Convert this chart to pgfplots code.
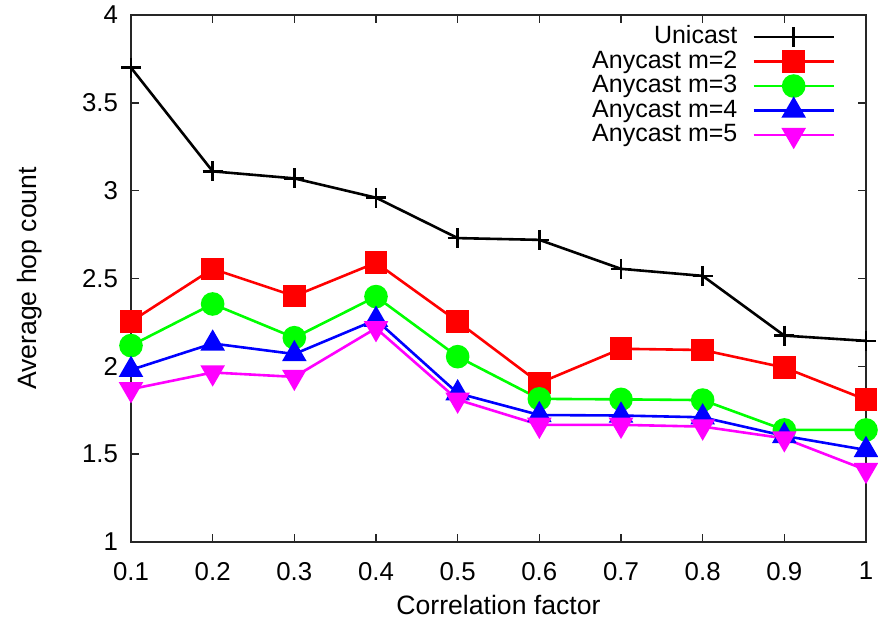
\documentclass[border=0pt]{standalone}
\usepackage{fontspec}
\setmainfont{Liberation Sans}
\usepackage{pgfplots}
\pgfplotsset{compat=1.18}
\definecolor{gpgreen}{RGB}{0,255,0}
\definecolor{gpmag}{RGB}{255,0,255}
\begin{document}
\begin{tikzpicture}
\begin{axis}[
  name=main,
  scale only axis,
  width=367.5bp, height=263.5bp,
  xmin=0.1, xmax=1, ymin=1, ymax=4,
  xtick={0.1,0.2,...,1.0},
  xticklabels={0.1,0.2,0.3,0.4,0.5,0.6,0.7,0.8,0.9,1},
  ytick={1,1.5,2,2.5,3,3.5,4},
  yticklabels={1,1.5,2,2.5,3,3.5,4},
  tick align=inside,
  major tick length=4bp,
  axis line style={line width=0.8bp, black!85},
  every tick/.style={line width=0.7bp, black!85},
  font=\fontsize{13.3bp}{15bp}\selectfont,
  tick label style={font=\fontsize{12.9bp}{14bp}\selectfont},
  xticklabel style={yshift=-6.5bp},
  yticklabel style={xshift=-3bp},
  xlabel={Correlation factor},
  ylabel={Average hop count},
  every axis x label/.style={at={(axis description cs:0.5,-0.1195)}, anchor=center},
  every axis y label/.style={at={(axis description cs:-0.1374,0.5)}, rotate=90, anchor=center},
  legend style={draw=none, fill=none, inner sep=0pt, outer sep=0pt,
    at={(rel axis cs:1,1)}, anchor=north east, xshift=-15.5bp, yshift=-4.9bp,
    cells={anchor=east}, legend plot pos=right,
    nodes={inner xsep=0pt, inner ysep=0.5bp, text height=9bp, text depth=2.25bp},
    column sep=7.5bp, row sep=0pt,
    font=\fontsize{12.5bp}{14bp}\selectfont},
  legend image code/.code={\draw[mark repeat=2,mark phase=2] plot coordinates {(0bp,0bp)(20bp,0bp)(40bp,0bp)};},
  every axis plot/.append style={line width=1.3bp},
]
\addplot[black, mark=+, mark size=5bp, mark options={line width=1.3bp}] coordinates {
(0.1,3.70)(0.2,3.11)(0.3,3.07)(0.4,2.96)(0.5,2.73)(0.6,2.72)(0.7,2.555)(0.8,2.515)(0.9,2.175)(1.0,2.145)};
\addlegendentry{Unicast}
\addplot[red, mark=square*, mark size=5bp] coordinates {
(0.1,2.255)(0.2,2.555)(0.3,2.40)(0.4,2.59)(0.5,2.255)(0.6,1.905)(0.7,2.10)(0.8,2.093)(0.9,1.993)(1.0,1.81)};
\addlegendentry{Anycast m=2}
\addplot[gpgreen, mark=*, mark size=5.25bp] coordinates {
(0.1,2.118)(0.2,2.355)(0.3,2.163)(0.4,2.397)(0.5,2.055)(0.6,1.815)(0.7,1.812)(0.8,1.808)(0.9,1.638)(1.0,1.638)};
\addlegendentry{Anycast m=3}
\addplot[blue, mark=triangle*, mark size=5.8bp] coordinates {
(0.1,1.98)(0.2,2.13)(0.3,2.07)(0.4,2.265)(0.5,1.847)(0.6,1.723)(0.7,1.72)(0.8,1.71)(0.9,1.604)(1.0,1.524)};
\addlegendentry{Anycast m=4}
\addplot[gpmag, mark=triangle*, mark size=5.8bp, mark options={rotate=180}] coordinates {
(0.1,1.87)(0.2,1.965)(0.3,1.94)(0.4,2.217)(0.5,1.81)(0.6,1.667)(0.7,1.667)(0.8,1.657)(0.9,1.59)(1.0,1.41)};
\addlegendentry{Anycast m=5}
\end{axis}
\pgfresetboundingbox
\useasboundingbox ([xshift=-65.5bp, yshift=-38.5bp]main.south west) rectangle ([xshift=6bp, yshift=7.5bp]main.north east);
\end{tikzpicture}
\end{document}
